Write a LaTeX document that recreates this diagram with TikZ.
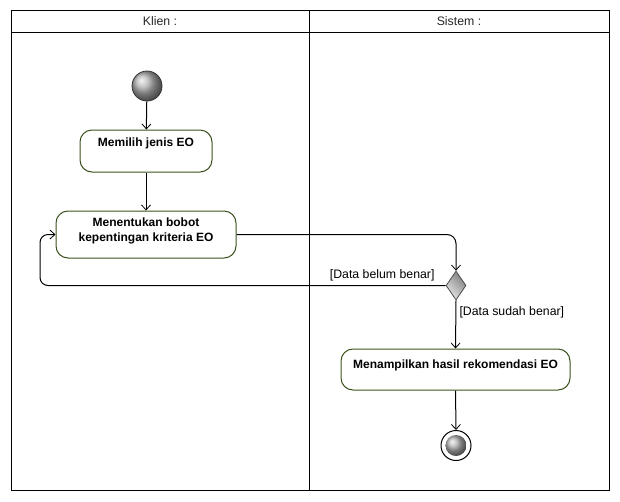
\documentclass[tikz,border=0pt]{standalone}
\usepackage{fontspec}
\setmainfont{Liberation Sans}
\usetikzlibrary{arrows.meta,shapes.geometric,calc}
\definecolor{boxline}{RGB}{60,82,30}
\begin{document}
\begin{tikzpicture}[x=1pt,y=-1pt,
  line width=1pt,
  act/.style={draw=boxline,fill=white,rounded corners=12pt,minimum width=#1,inner sep=0pt},
  acttext/.style={font=\bfseries\fontsize{12}{14.5}\selectfont,align=center,inner sep=0pt},
  guard/.style={font=\fontsize{12.3}{14}\selectfont,inner sep=0pt},
  head/.style={font=\fontsize{12.3}{14}\selectfont,text=black!85,inner sep=0pt},
  flow/.style={draw,-{Straight Barb[length=5pt,width=9pt,line width=0.8pt]}},
]
\useasboundingbox (0,0) rectangle (620,501);
% swimlane frame
\draw (11,10) rectangle (609,490);
\draw (11,32) -- (609,32);
\draw (309,10) -- (309,490);
\node[head] (hk) at (160,21) {Klien :};
\node[head] (hs) at (459,21) {Sistem :};
% start
\node[circle,minimum size=30pt,inner sep=0pt,shading=ball,ball color=black!30,draw=black!80,line width=0.8pt] (start) at (147,86) {};
% boxes
\node[act=132pt,minimum height=42pt] (b1) at (146,151) {};
\node[acttext] (t1) at (146,143) {Memilih jenis EO};
\node[act=180pt,minimum height=47pt] (b2) at (146,234.5) {};
\node[acttext] (t2) at (146,231) {Menentukan bobot\\kepentingan kriteria EO};
\node[diamond,minimum width=20pt,minimum height=29pt,inner sep=0pt,aspect=0.69,draw=black!70,line width=0.8pt,shading=axis,left color=white!90!black,right color=black!50,shading angle=135] (d) at (456,285.5) {};
\node[act=229pt,minimum height=41pt] (b3) at (455.5,369.5) {};
\node[acttext] (t3) at (455.5,365) {Menampilkan hasil rekomendasi EO};
% end
\node[circle,minimum size=30pt,inner sep=0pt,draw=black,fill=white,line width=1pt] (end) at (456,445.5) {};
\node[circle,minimum size=21pt,inner sep=0pt,shading=ball,ball color=black!30] (endin) at (end) {};
% flows
\draw[flow] (start) -- (b1);
\draw[flow] (b1) -- (b2);
\draw[flow,rounded corners=9pt] (b2.east) -| (d.north);
\coordinate (lp) at (40,234.5);
\draw[flow,rounded corners=8pt] (d.west) -| (lp) -- (b2.west);
\draw[flow] (d.south) -- (b3.north);
\draw[flow] (b3.south) -- (end.north);
% guards
\node[guard,anchor=east] (g1) at (435,275) {[Data belum benar]};
\node[guard,anchor=west] (g2) at (459,312) {[Data sudah benar]};
\end{tikzpicture}
\end{document}
